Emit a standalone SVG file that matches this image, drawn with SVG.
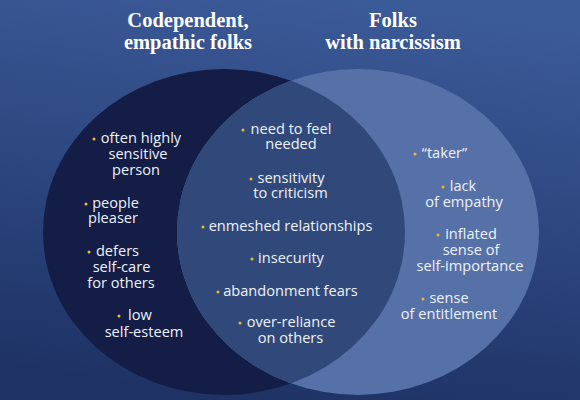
<svg xmlns="http://www.w3.org/2000/svg" width="580" height="400" viewBox="0 0 580 400">
  <defs>
    <linearGradient id="bg" x1="0.6" y1="0" x2="0.4" y2="1">
      <stop offset="0" stop-color="#3b5a98"/>
      <stop offset="1" stop-color="#1e3265"/>
    </linearGradient>
    <clipPath id="clipLeft">
      <ellipse cx="224" cy="232" rx="181" ry="163"/>
    </clipPath>
  </defs>
  <style>
    .title { font-family: "Liberation Serif", "DejaVu Serif", serif; font-weight: bold; font-size: 20.5px; fill: #ffffff; text-anchor: middle; }
    .lbl { font-family: "Open Sans", "Liberation Sans", sans-serif; font-size: 14.6px; fill: #eef1f8; text-anchor: middle; }
    .dot { fill: #f2b829; }
  </style>
  <rect x="0" y="0" width="580" height="400" fill="url(#bg)"/>

  <g id="title-codependent">
    <text class="title"><tspan x="188" y="27">Codependent,</tspan><tspan x="188" y="49">empathic folks</tspan></text>
  </g>
  <g id="title-narcissism">
    <text class="title"><tspan x="393" y="27">Folks</tspan><tspan x="393" y="49">with narcissism</tspan></text>
  </g>

  <g id="set-codependent">
    <ellipse cx="224" cy="232" rx="181" ry="163" fill="#131d46"/>
  </g>
  <g id="set-narcissism">
    <ellipse cx="358" cy="232" rx="181" ry="163" fill="#5571a8"/>
  </g>
  <g id="set-overlap">
    <ellipse cx="358" cy="232" rx="181" ry="163" fill="#30497a" clip-path="url(#clipLeft)"/>
  </g>

  <g id="left-items">
    <g id="item-highly-sensitive">
      <circle class="dot" cx="94" cy="139" r="1.5"/>
      <text class="lbl"><tspan x="141" y="143">often highly</tspan><tspan x="138" y="159">sensitive</tspan><tspan x="136" y="175">person</tspan></text>
    </g>
    <g id="item-people-pleaser">
      <circle class="dot" cx="86" cy="204" r="1.5"/>
      <text class="lbl"><tspan x="115.5" y="208">people</tspan><tspan x="113" y="223">pleaser</tspan></text>
    </g>
    <g id="item-defers">
      <circle class="dot" cx="89" cy="252" r="1.5"/>
      <text class="lbl"><tspan x="117.5" y="256">defers</tspan><tspan x="121.5" y="272">self-care</tspan><tspan x="121" y="288">for others</tspan></text>
    </g>
    <g id="item-low-self-esteem">
      <circle class="dot" cx="119" cy="316" r="1.5"/>
      <text class="lbl"><tspan x="140" y="320">low</tspan><tspan x="144" y="337">self-esteem</tspan></text>
    </g>
  </g>

  <g id="overlap-items">
    <g id="item-need-to-feel-needed">
      <circle class="dot" cx="243" cy="130" r="1.5"/>
      <text class="lbl"><tspan x="291" y="134">need to feel</tspan><tspan x="291" y="149">needed</tspan></text>
    </g>
    <g id="item-sensitivity">
      <circle class="dot" cx="251" cy="179" r="1.5"/>
      <text class="lbl"><tspan x="291" y="183">sensitivity</tspan><tspan x="290.5" y="198">to criticism</tspan></text>
    </g>
    <g id="item-enmeshed">
      <circle class="dot" cx="203" cy="227" r="1.5"/>
      <text class="lbl" x="290.5" y="231">enmeshed relationships</text>
    </g>
    <g id="item-insecurity">
      <circle class="dot" cx="252" cy="259" r="1.5"/>
      <text class="lbl" x="291" y="263">insecurity</text>
    </g>
    <g id="item-abandonment">
      <circle class="dot" cx="218" cy="292" r="1.5"/>
      <text class="lbl" x="290.5" y="296">abandonment fears</text>
    </g>
    <g id="item-over-reliance">
      <circle class="dot" cx="240" cy="323" r="1.5"/>
      <text class="lbl"><tspan x="291" y="327">over-reliance</tspan><tspan x="290.5" y="343">on others</tspan></text>
    </g>
  </g>

  <g id="right-items">
    <g id="item-taker">
      <circle class="dot" cx="415" cy="154" r="1.5"/>
      <text class="lbl" x="444.5" y="158">“taker”</text>
    </g>
    <g id="item-lack-of-empathy">
      <circle class="dot" cx="443" cy="187" r="1.5"/>
      <text class="lbl"><tspan x="463" y="191">lack</tspan><tspan x="464" y="207">of empathy</tspan></text>
    </g>
    <g id="item-inflated">
      <circle class="dot" cx="438" cy="235" r="1.5"/>
      <text class="lbl"><tspan x="471" y="239">inflated</tspan><tspan x="471" y="255">sense of</tspan><tspan x="470" y="271">self-importance</tspan></text>
    </g>
    <g id="item-entitlement">
      <circle class="dot" cx="423" cy="299" r="1.5"/>
      <text class="lbl"><tspan x="449" y="303">sense</tspan><tspan x="449" y="319">of entitlement</tspan></text>
    </g>
  </g>
</svg>
